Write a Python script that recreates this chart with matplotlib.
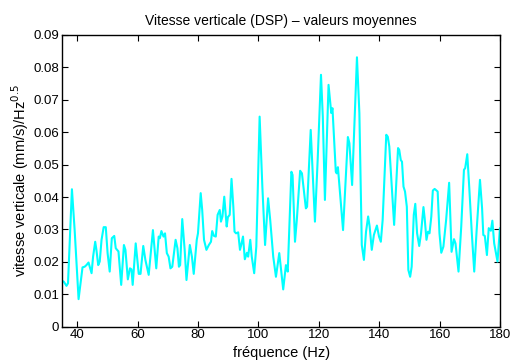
import matplotlib

matplotlib.use("Agg")
import matplotlib.pyplot as plt
from matplotlib.ticker import FixedLocator, FixedFormatter

# frequency (Hz) and mean vertical velocity PSD
freq = [
    34.8, 35.6, 36.5, 37.0, 38.3, 39.2, 40.5, 41.8, 42.5, 43.1, 43.8, 44.2, 44.8,
    45.3, 46.0, 46.4, 47.0, 47.5, 48.1, 48.8, 49.5, 50.1, 50.8, 51.5, 52.3, 52.8,
    53.7, 54.6, 55.5, 56.0, 56.8, 57.5, 58.0, 58.4, 59.4, 60.4, 61.0, 61.9, 62.6,
    63.7, 65.1, 66.2, 67.0, 67.4, 67.9, 68.6, 69.1, 69.7, 70.3, 70.9, 71.5, 72.6,
    73.2, 73.7, 74.1, 74.8, 75.6, 76.2, 77.3, 78.0, 78.6, 79.6, 80.0, 80.9, 81.4,
    82.0, 82.8, 83.6, 84.3, 84.7, 85.3, 85.9, 86.5, 87.2, 87.6, 88.1, 88.7, 89.5,
    89.9, 90.5, 91.1, 91.7, 92.1, 92.6, 93.3, 93.9, 94.3, 94.9, 95.5, 96.2, 96.6,
    97.3, 97.8, 98.6, 99.3, 100.4, 101.3, 102.2, 103.2, 103.9, 104.9, 105.8,
    106.9, 107.5, 108.2, 109.1, 109.7, 110.9, 111.3, 112.1, 112.7, 113.8, 114.4,
    115.7, 116.1, 117.3, 117.7, 118.7, 119.6, 120.7, 121.3, 122.0, 123.2, 124.1,
    124.5, 125.6, 125.9, 126.3, 128.0, 129.6, 130.1, 131.0, 132.6, 133.4, 134.2,
    134.9, 135.6, 136.3, 136.8, 137.5, 138.2, 139.2, 139.9, 140.5, 141.1, 142.3,
    142.8, 143.3, 144.9, 146.2, 146.6, 147.1, 147.5, 148.0, 148.5, 149.1, 149.6,
    150.2, 150.7, 151.4, 151.9, 152.5, 153.2, 153.8, 154.6, 155.0, 155.6, 156.1,
    156.6, 157.2, 157.7, 158.3, 159.3, 159.9, 160.5, 161.2, 162.1, 163.1, 163.9,
    164.7, 165.2, 166.2, 167.1, 168.0, 168.4, 169.1, 169.8, 170.6, 171.4, 172.2,
    173.3, 174.0, 174.4, 174.9, 175.6, 176.2, 176.9, 177.4, 178.0, 178.6, 179.1,
    179.9, 180.4,
]
vitesse = [
    0.0142, 0.0139, 0.0126, 0.0134, 0.0424, 0.0298, 0.0085, 0.0183, 0.0185,
    0.0190, 0.0198, 0.0185, 0.0165, 0.0216, 0.0262, 0.0237, 0.0190, 0.0201,
    0.0268, 0.0307, 0.0307, 0.0227, 0.0170, 0.0273, 0.0280, 0.0242, 0.0232,
    0.0129, 0.0252, 0.0237, 0.0146, 0.0180, 0.0177, 0.0129, 0.0257, 0.0163,
    0.0163, 0.0249, 0.0206, 0.0160, 0.0298, 0.0180, 0.0278, 0.0273, 0.0295,
    0.0278, 0.0288, 0.0227, 0.0216, 0.0180, 0.0185, 0.0268, 0.0242, 0.0185,
    0.0190, 0.0332, 0.0237, 0.0144, 0.0252, 0.0216, 0.0163, 0.0268, 0.0288,
    0.0412, 0.0360, 0.0268, 0.0237, 0.0252, 0.0262, 0.0295, 0.0280, 0.0278,
    0.0345, 0.0360, 0.0324, 0.0340, 0.0401, 0.0309, 0.0338, 0.0345, 0.0456,
    0.0370, 0.0293, 0.0288, 0.0291, 0.0237, 0.0252, 0.0278, 0.0208, 0.0228,
    0.0216, 0.0268, 0.0216, 0.0165, 0.0247, 0.0648, 0.0432, 0.0252, 0.0396,
    0.0329, 0.0216, 0.0154, 0.0227, 0.0175, 0.0115, 0.0190, 0.0170, 0.0478,
    0.0468, 0.0262, 0.0329, 0.0481, 0.0473, 0.0365, 0.0370, 0.0607, 0.0525,
    0.0324, 0.0514, 0.0777, 0.0648, 0.0391, 0.0746, 0.0659, 0.0674, 0.0478,
    0.0473, 0.0492, 0.0298, 0.0585, 0.0566, 0.0437, 0.0831, 0.0659, 0.0252,
    0.0206, 0.0293, 0.0340, 0.0309, 0.0237, 0.0283, 0.0312, 0.0278, 0.0262,
    0.0329, 0.0592, 0.0586, 0.0556, 0.0314, 0.0551, 0.0545, 0.0514, 0.0509,
    0.0432, 0.0417, 0.0370, 0.0175, 0.0154, 0.0185, 0.0345, 0.0379, 0.0288,
    0.0249, 0.0288, 0.0369, 0.0335, 0.0268, 0.0293, 0.0288, 0.0340, 0.0420,
    0.0425, 0.0417, 0.0288, 0.0228, 0.0247, 0.0329, 0.0444, 0.0231, 0.0270,
    0.0257, 0.0170, 0.0309, 0.0484, 0.0489, 0.0532, 0.0422, 0.0288, 0.0170,
    0.0298, 0.0453, 0.0365, 0.0283, 0.0280, 0.0221, 0.0304, 0.0296, 0.0327,
    0.0257, 0.0227, 0.0201, 0.0304, 0.0257,
]

x_ticks = [40, 60, 80, 100, 120, 140, 160, 180]
y_ticks = [0, 0.01, 0.02, 0.03, 0.04, 0.05, 0.06, 0.07, 0.08, 0.09]
y_labels = ["0", "0.01", "0.02", "0.03", "0.04", "0.05", "0.06", "0.07", "0.08", "0.09"]

plt.rcParams["font.family"] = ["Liberation Sans", "DejaVu Sans"]

fig = plt.figure(figsize=(5.12, 3.6), dpi=100)
ax = fig.add_axes([0.121, 0.0925, 0.856, 0.8105])

ax.plot(freq, vitesse, color="#00ffff", lw=1.5)

ax.set_xlim(35, 180)
ax.set_ylim(0, 0.09)
ax.xaxis.set_major_locator(FixedLocator(x_ticks))
ax.yaxis.set_major_locator(FixedLocator(y_ticks))
ax.yaxis.set_major_formatter(FixedFormatter(y_labels))
ax.tick_params(direction="in", top=True, right=True, length=4, width=0.8,
               labelsize=9.5, pad=2)
for s in ax.spines.values():
    s.set_linewidth(1.0)

ax.set_title("Vitesse verticale (DSP) \u2013 valeurs moyennes", fontsize=10, pad=7)
ax.set_xlabel("fréquence (Hz)", fontsize=10.5, labelpad=3)
ax.set_ylabel("vitesse verticale (mm/s)/Hz$^{0.5}$", fontsize=10.5, labelpad=2)

fig.savefig("out.png", dpi=100)
